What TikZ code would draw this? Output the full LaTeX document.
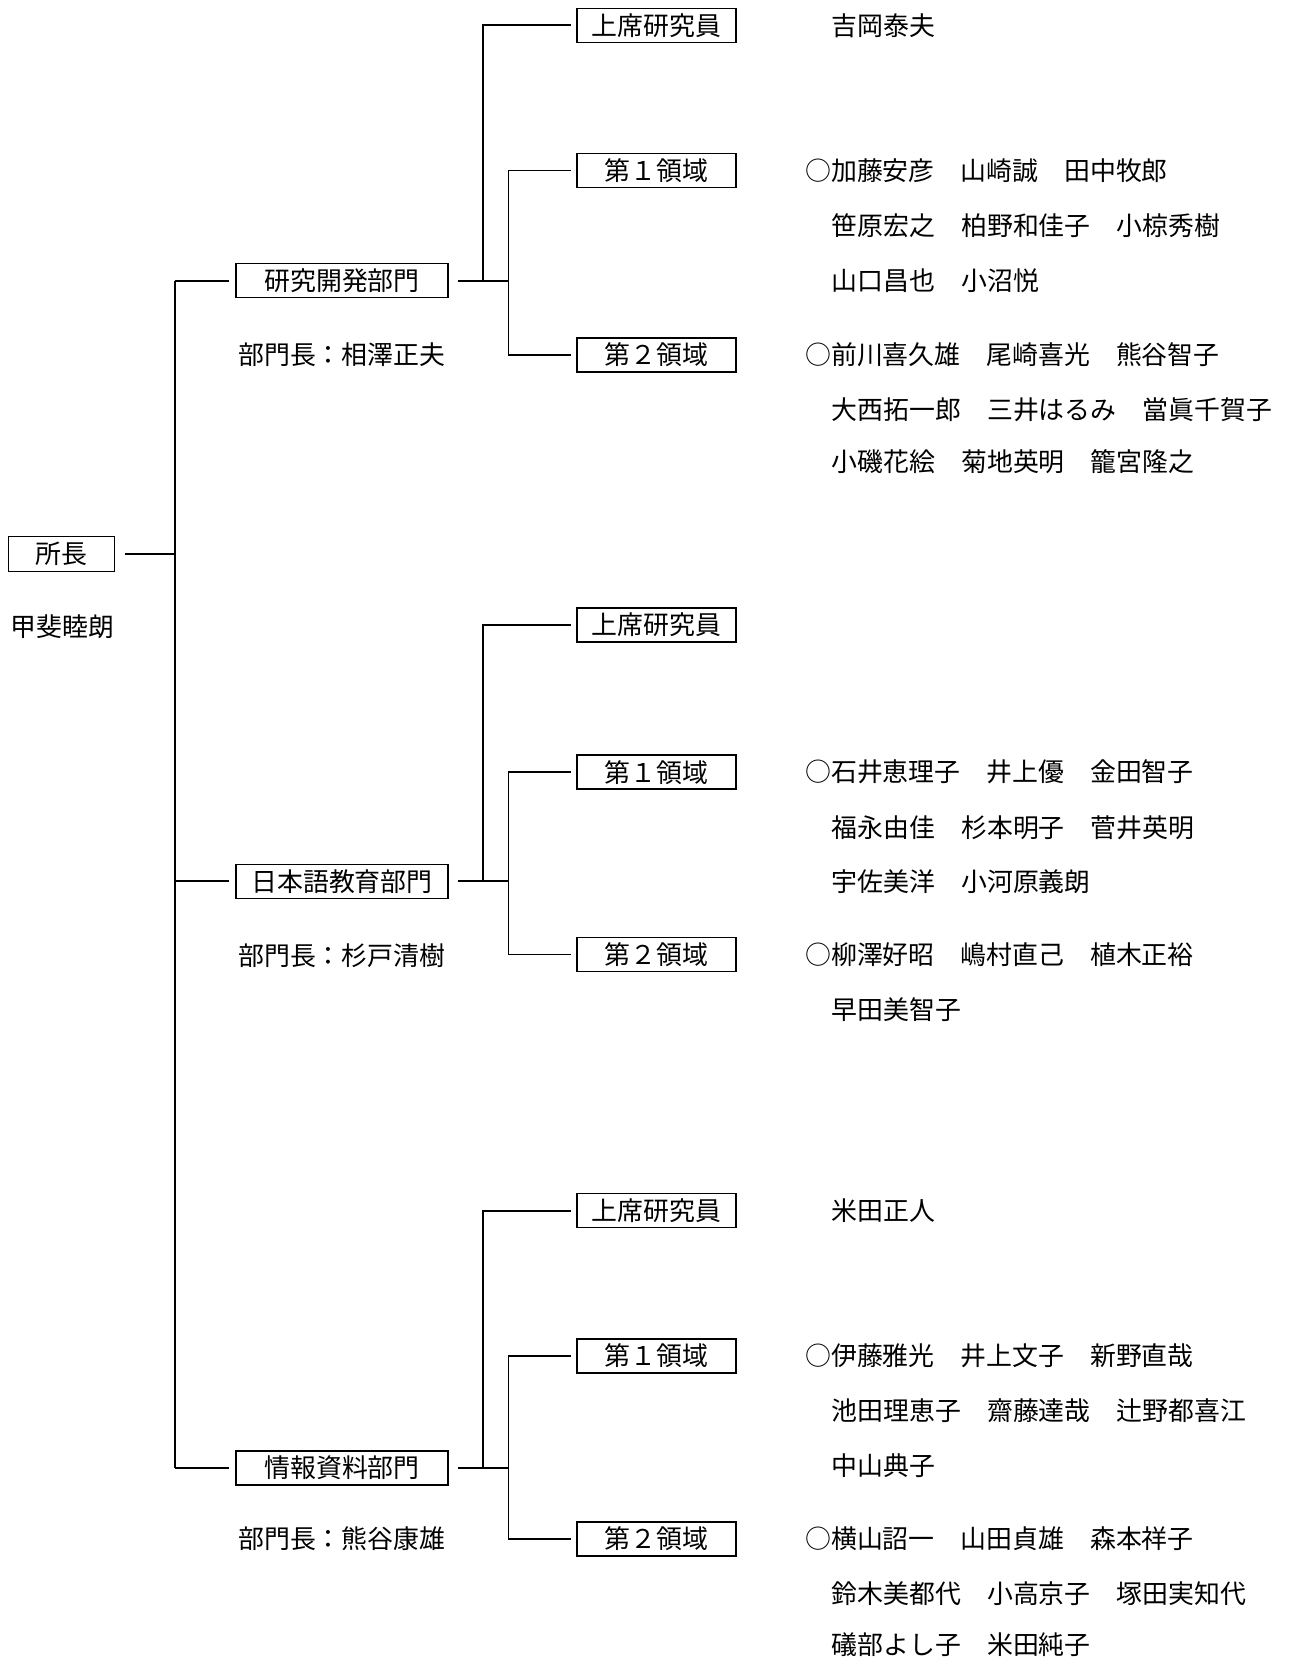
\documentclass[tikz,border=0pt]{standalone}
\usepackage{fontspec}
\newfontfamily\cjk{Noto Sans CJK JP}
\begin{document}
\begin{tikzpicture}[x=1pt,y=-1pt,
  every node/.style={font=\cjk\fontsize{25.9}{30}\selectfont, inner sep=0pt},
  boxed/.style={draw, line width=1.5pt, minimum height=34pt},
  leafbox/.style={boxed, minimum width=159pt},
  divbox/.style={boxed, minimum width=212pt},
  names/.style={anchor=west},
  conn/.style={line width=1.8pt}]
\useasboundingbox (0,0) rectangle (1289,1661);
\fill[white] (0,0) rectangle (1289,1661);

% director
\node[boxed, minimum width=106pt, minimum height=35pt] (boss) at (61.4,554) {所長};
\node[names] (bossname) at (10.6,627) {甲斐睦朗};

% spine
\coordinate (sp0) at (174.8,554);
\coordinate (sp1) at (174.8,280.7);
\coordinate (sp2) at (174.8,881.3);
\coordinate (sp3) at (174.8,1468);
\draw[conn, shorten <=9.5pt] (boss.east) -- (sp0);
\draw[conn] (sp1) -- (sp3);

% divisions
\node[divbox] (d1) at (342,280.7) {研究開発部門};
\node[divbox] (d2) at (342,881.3) {日本語教育部門};
\node[divbox] (d3) at (342,1468) {情報資料部門};
\node[names] (h1) at (238,355) {部門長：相澤正夫};
\node[names] (h2) at (238,955.4) {部門長：杉戸清樹};
\node[names] (h3) at (238,1539) {部門長：熊谷康雄};
\draw[conn, shorten >=6.4pt] (sp1) -- (d1.west);
\draw[conn, shorten >=6.4pt] (sp2) -- (d2.west);
\draw[conn, shorten >=6.4pt] (sp3) -- (d3.west);

% leaf boxes
\node[leafbox] (u1) at (656.6,25.4) {上席研究員};
\node[leafbox] (a1) at (656.6,170.5) {第１領域};
\node[leafbox] (b1) at (656.6,354.8) {第２領域};
\node[leafbox] (u2) at (656.6,624.9) {上席研究員};
\node[leafbox] (a2) at (656.6,772.2) {第１領域};
\node[leafbox] (b2) at (656.6,954.4) {第２領域};
\node[leafbox] (u3) at (656.6,1210.7) {上席研究員};
\node[leafbox] (a3) at (656.6,1355.8) {第１領域};
\node[leafbox] (b3) at (656.6,1539) {第２領域};

% connectors per division
\foreach \g/\y in {1/280.7, 2/881.3, 3/1468} {
  \coordinate (k\g) at (483,\y);
  \coordinate (j\g) at (508.4,\y);
  \draw[conn, shorten <=9.5pt] (d\g.east) -- (j\g);
  \draw[conn, shorten >=5.3pt] (k\g) |- (u\g.west);
  \draw[conn, shorten >=5.3pt] (j\g) |- (a\g.west);
  \draw[conn, shorten >=5.3pt] (j\g) |- (b\g.west);
}

% names group 1
\node[names] (n11) at (831.5,25.4) {吉岡泰夫};
\node[names] (n12) at (805,170.5) {○加藤安彦　山崎誠　田中牧郎};
\node[names] (n13) at (831.5,225.6) {笹原宏之　柏野和佳子　小椋秀樹};
\node[names] (n14) at (831.5,280.7) {山口昌也　小沼悦};
\node[names] (n15) at (805,354.8) {○前川喜久雄　尾崎喜光　熊谷智子};
\node[names] (n16) at (831.5,409.9) {大西拓一郎　三井はるみ　當眞千賀子};
\node[names] (n17) at (831.5,462) {小磯花絵　菊地英明　籠宮隆之};

% names group 2
\node[names] (n21) at (805,772.2) {○石井恵理子　井上優　金田智子};
\node[names] (n22) at (831.5,827.3) {福永由佳　杉本明子　菅井英明};
\node[names] (n23) at (831.5,881.3) {宇佐美洋　小河原義朗};
\node[names] (n24) at (805,954.4) {○柳澤好昭　嶋村直己　植木正裕};
\node[names] (n25) at (831.5,1009.4) {早田美智子};

% names group 3
\node[names] (n31) at (831.5,1210.7) {米田正人};
\node[names] (n32) at (805,1355.8) {○伊藤雅光　井上文子　新野直哉};
\node[names] (n33) at (831.5,1410.8) {池田理恵子　齋藤達哉　辻野都喜江};
\node[names] (n34) at (831.5,1466) {中山典子};
\node[names] (n35) at (805,1539) {○横山詔一　山田貞雄　森本祥子};
\node[names] (n36) at (831.5,1594) {鈴木美都代　小高京子　塚田実知代};
\node[names] (n37) at (831.5,1645) {礒部よし子　米田純子};
\end{tikzpicture}
\end{document}
